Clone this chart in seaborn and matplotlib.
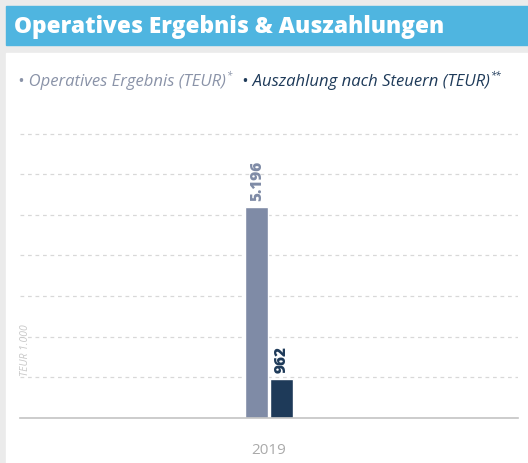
import pandas as pd
import matplotlib
matplotlib.use("Agg")
import matplotlib.pyplot as plt
import seaborn as sns
from matplotlib.patches import Rectangle

# Datos del gráfico
jahre = ["2019"]
serien = ["Operatives Ergebnis (TEUR)", "Auszahlung nach Steuern (TEUR)"]
sternchen = ["*", "**"]
werte_ergebnis = [5196]
werte_auszahlung = [962]
etiketten = ["5.196", "962"]
farben = ["#7f8ba6", "#1e3a59"]
legend_farben = ["#8a93a8", "#1e3a59"]

df = pd.DataFrame({
    "jahr": jahre * 2,
    "serie": [serien[0]] * len(jahre) + [serien[1]] * len(jahre),
    "wert": werte_ergebnis + werte_auszahlung,
})

sns.set_style("white")
plt.rcParams["font.family"] = ["Open Sans", "DejaVu Sans"]

fig = plt.figure(figsize=(5.28, 4.64), dpi=100)
fig.patch.set_facecolor("#ebebeb")

# Fondo: banda del título y panel blanco
fig.patches.append(Rectangle((6 / 528, 1 - 46 / 464), 1, 39 / 464,
                             transform=fig.transFigure, color="#4fb5e0", zorder=-10))
fig.patches.append(Rectangle((6 / 528, 0), 1, 1 - 54 / 464,
                             transform=fig.transFigure, color="white", zorder=-10))
fig.text(14 / 528, 1 - 27 / 464, "Operatives Ergebnis & Auszahlungen",
         color="white", fontsize=16.3, fontweight=800, va="center", ha="left")

# Leyenda como texto, con asteriscos en superíndice
renderer = fig.canvas.get_renderer()
x = 18 / 528
y = 1 - 82 / 464
for serie, stern, col in zip(serien, sternchen, legend_farben):
    t = fig.text(x, y, "\u2022 " + serie, color=col, fontsize=12, style="italic",
                 va="center", ha="left")
    bb = t.get_window_extent(renderer).transformed(fig.transFigure.inverted())
    s = fig.text(bb.x1 + 1 / 528, y + 5 / 464, stern, color=col, fontsize=7,
                 style="italic", va="center", ha="left")
    bb2 = s.get_window_extent(renderer).transformed(fig.transFigure.inverted())
    x = bb2.x1 + 10 / 528

ax = fig.add_axes([20 / 528, 1 - 419 / 464, 498 / 528, (419 - 102) / 464])
ax.set_facecolor("none")

sns.barplot(data=df, x="jahr", y="wert", hue="serie", palette=farben,
            width=0.098, gap=0.06, ax=ax, legend=False, saturation=1)

ax.set_xlim(-0.5, 0.5)
ax.set_ylim(0, 7800)
ax.set_yticks(range(1000, 8000, 1000))
ax.yaxis.grid(True, linestyle=(0, (3, 3)), color="#d8d8d8", linewidth=0.9)
ax.set_axisbelow(True)
ax.tick_params(axis="y", left=False, labelleft=False)
ax.tick_params(axis="x", bottom=False, colors="#aaaaaa", labelsize=11, pad=14)
ax.set_xlabel("")
ax.set_ylabel("")
for s in ["top", "right", "left"]:
    ax.spines[s].set_visible(False)
ax.spines["bottom"].set_color("#c4c4c4")
ax.spines["bottom"].set_linewidth(1.2)

# Etiquetas de valores encima de las barras
for p, txt, col in zip(ax.patches, etiketten, farben):
    ax.annotate(txt, (p.get_x() + p.get_width() / 2, p.get_height()),
                xytext=(0, 5), textcoords="offset points", rotation=90,
                ha="center", va="bottom", fontsize=11, fontweight=800, color=col)

fig.text(25 / 528, 1 - 350 / 464, "TEUR 1.000", rotation=90, style="italic",
         color="#c8c8c8", fontsize=7.5, va="center", ha="center")

fig.savefig("out.png", dpi=100, facecolor=fig.get_facecolor())
